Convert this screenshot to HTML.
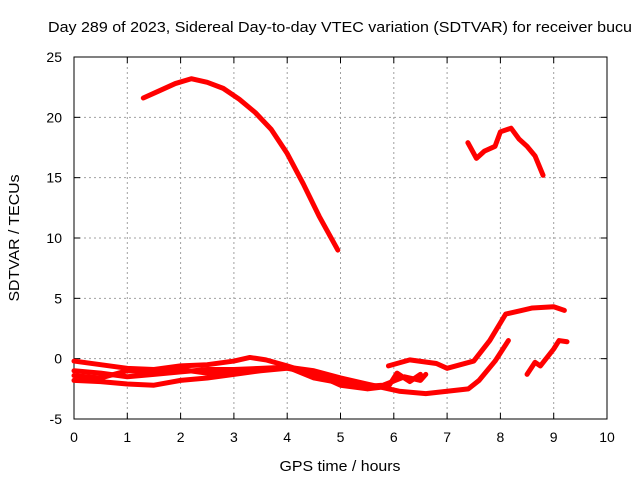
<!DOCTYPE html>
<html><head><meta charset="utf-8"><style>
body{margin:0;background:#fff}
svg{display:block;font-family:"Liberation Sans",sans-serif}
</style></head><body>
<svg id="c" width="640" height="480">
<text x="340" y="32" font-size="15" text-anchor="middle" textLength="584" lengthAdjust="spacingAndGlyphs">Day 289 of 2023, Sidereal Day-to-day VTEC variation (SDTVAR) for receiver bucu</text>
<text x="340" y="471" font-size="15" text-anchor="middle" textLength="121" lengthAdjust="spacingAndGlyphs">GPS time / hours</text>
<text x="19" y="238" font-size="15" text-anchor="middle" textLength="127" lengthAdjust="spacingAndGlyphs" transform="rotate(-90 19 238)">SDTVAR / TECUs</text>
</svg>
<script>
const xTicks=[0,1,2,3,4,5,6,7,8,9,10];
const yTicks=[-5,0,5,10,15,20,25];
const arcSeries=[[1.3,21.6],[1.6,22.2],[1.9,22.8],[2.2,23.2],[2.5,22.9],[2.8,22.4],[3.1,21.5],[3.4,20.4],[3.7,19.0],[4.0,17.0],[4.3,14.5],[4.6,11.8],[4.95,9.0]];
const upperRight=[[7.39,17.9],[7.55,16.6],[7.7,17.2],[7.9,17.6],[8.0,18.8],[8.2,19.1],[8.35,18.2],[8.5,17.6],[8.65,16.8],[8.8,15.2]];
const low1=[[0,-0.2],[0.5,-0.5],[1,-0.8],[1.5,-0.9],[2,-0.6],[2.5,-0.5],[3,-0.2],[3.3,0.1],[3.6,-0.1],[4,-0.6],[4.5,-1.3],[5,-1.9],[5.5,-2.3],[5.8,-2.2],[6.2,-1.5],[6.5,-1.8],[6.6,-1.3]];
const low2=[[0,-1.0],[0.5,-1.2],[1,-1.5],[1.5,-1.3],[2,-1.1],[2.5,-0.9],[3,-0.9],[3.5,-0.8],[4,-0.7],[4.5,-1.0],[5,-1.6],[5.5,-2.1],[6.1,-2.7],[6.6,-2.9],[7.0,-2.7],[7.4,-2.5],[7.6,-1.8],[7.9,-0.2],[8.15,1.5]];
const low3=[[0,-1.8],[0.5,-1.9],[1,-2.1],[1.5,-2.2],[2,-1.8],[2.5,-1.6],[3,-1.3],[3.5,-1.0],[4,-0.8],[4.5,-1.2],[5,-2.2],[5.5,-2.5],[5.9,-2.3],[6.06,-1.2],[6.3,-1.9],[6.5,-1.3]];
const low4=[[0,-1.4],[0.5,-1.6],[1,-1.0],[1.5,-1.1],[2,-0.9],[2.5,-1.2],[3,-1.1],[3.5,-0.9],[4,-0.7],[4.5,-1.6],[5,-2.0]];
const rightMid=[[5.9,-0.6],[6.3,-0.1],[6.8,-0.4],[7.0,-0.8],[7.5,-0.2],[7.8,1.5],[8.1,3.7],[8.4,4.0],[8.6,4.2],[9.0,4.3],[9.2,4.0]];
const rightLow=[[8.5,-1.3],[8.65,-0.3],[8.75,-0.6],[9.0,0.8],[9.1,1.5],[9.25,1.4]];
const NS="http://www.w3.org/2000/svg",svg=document.getElementById('c');
const L=74,R=607,T=57,B=419;
const xs=h=>L+(h-0)/(10-0)*(R-L);
const ys=v=>B-(v+5)/30*(B-T);
function mk(t,a){const e=document.createElementNS(NS,t);for(const k in a)e.setAttribute(k,a[k]);svg.appendChild(e);return e;}
xTicks.forEach(t=>{
 if(t>0&&t<10){const g=mk('line',{x1:xs(t),x2:xs(t),y1:T,y2:B,stroke:'#a0a0a0','stroke-dasharray':'2,3'});
 
 }
 const tx=mk('text',{x:xs(t),y:B+23,'font-size':14,'text-anchor':'middle'});tx.textContent=t;
 
 
 mk('line',{x1:xs(t),x2:xs(t),y1:B,y2:B-6,stroke:'#000'});mk('line',{x1:xs(t),x2:xs(t),y1:T,y2:T+6,stroke:'#000'});
});
yTicks.forEach(t=>{
 if(t>-5&&t<25){const g=mk('line',{x1:L,x2:R,y1:ys(t),y2:ys(t),stroke:'#a0a0a0','stroke-dasharray':'2,3'});
 
 }
 const tx=mk('text',{x:L-12,y:ys(t)+5,'font-size':14,'text-anchor':'end'});tx.textContent=t;
 
 
 mk('line',{x1:L,x2:L+6,y1:ys(t),y2:ys(t),stroke:'#000'});mk('line',{x1:R,x2:R-6,y1:ys(t),y2:ys(t),stroke:'#000'});
});
const fr=mk('rect',{x:L,y:T,width:R-L,height:B-T,fill:'none',stroke:'#000'});


const series=[arcSeries,upperRight,low1,low2,low3,low4,rightMid,rightLow];
series.forEach((s,i)=>{
 const p=mk('polyline',{points:s.map(d=>xs(d[0])+','+ys(d[1])).join(' '),fill:'none',stroke:'#ff0000','stroke-width':5,'stroke-linejoin':'round','stroke-linecap':'round'});
 
 
});
</script>
</body></html>
